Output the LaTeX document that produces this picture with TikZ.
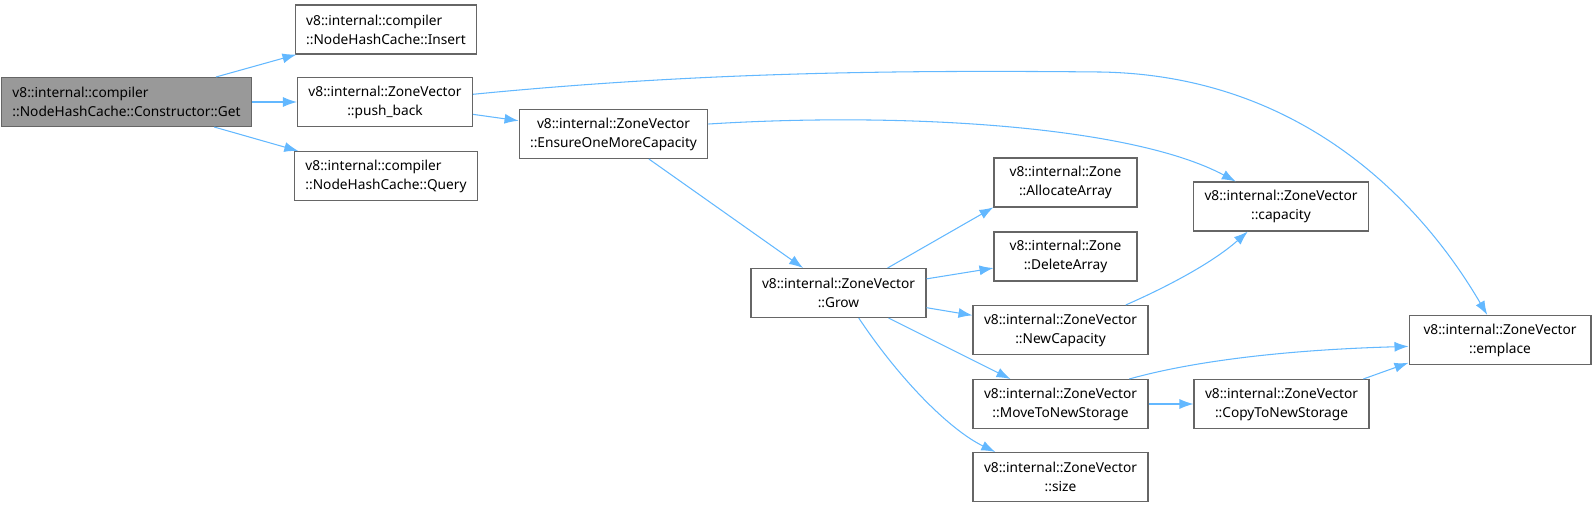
\documentclass[tikz,border=0pt]{standalone}
\usepackage{fontspec}
\setmainfont{Noto Sans}
\usepackage{tikz}
\usepackage{xcolor}
\usetikzlibrary{arrows.meta}
\definecolor{edgeblue}{RGB}{99,184,255}
\definecolor{boxgray}{RGB}{102,102,102}
\definecolor{rootgray}{RGB}{153,153,153}

\begin{document}
\begin{tikzpicture}[x=0.02cm,y=-0.02cm,
  fn/.style={draw=boxgray,line width=0.6pt,minimum height=0.98cm,inner xsep=0.22cm,inner ysep=0pt,font=\fontsize{7.8}{10.8}\selectfont,align=center},
  fnleft/.style={fn,align=left},
  call/.style={draw=edgeblue,line width=0.6pt,-{Latex[length=0.28cm,width=0.2cm]}}]
\useasboundingbox (0,0) rectangle (1596,507);

% caller and first level
\node[fnleft,fill=rootgray,minimum width=4.86cm] (get) at (126.5,102) {v8::internal::compiler\\::NodeHashCache::Constructor::Get};
\node[fnleft,minimum width=3.6cm] (insert) at (386,29.5) {v8::internal::compiler\\::NodeHashCache::Insert};
\node[fn,minimum width=3.44cm] (pushback) at (385,102) {v8::internal::ZoneVector\\::push\_back};
\node[fnleft,minimum width=3.6cm] (query) at (386,176) {v8::internal::compiler\\::NodeHashCache::Query};

% zone vector internals
\node[fn,minimum width=3.62cm] (ensure) at (613.5,134) {v8::internal::ZoneVector\\::EnsureOneMoreCapacity};
\node[fn,minimum width=3.46cm] (grow) at (838.5,293) {v8::internal::ZoneVector\\::Grow};
\node[fn,minimum width=2.86cm] (alloc) at (1065.5,182.5) {v8::internal::Zone\\::AllocateArray};
\node[fn,minimum width=2.86cm] (delarr) at (1065.5,256.5) {v8::internal::Zone\\::DeleteArray};
\node[fn,minimum width=3.46cm] (newcap) at (1060.5,330) {v8::internal::ZoneVector\\::NewCapacity};
\node[fn,minimum width=3.46cm] (move) at (1060.5,404) {v8::internal::ZoneVector\\::MoveToNewStorage};
\node[fn,minimum width=3.46cm] (size) at (1060.5,477) {v8::internal::ZoneVector\\::size};
\node[fn,minimum width=3.48cm] (capacity) at (1281,206.5) {v8::internal::ZoneVector\\::capacity};
\node[fn,minimum width=3.46cm] (copy) at (1281.5,404) {v8::internal::ZoneVector\\::CopyToNewStorage};
\node[fn,minimum width=3.64cm] (emplace) at (1500,340) {v8::internal::ZoneVector\\::emplace};

% calls
\draw[call] (get) -- (insert);
\draw[call] (get) -- (pushback);
\draw[call] (get) -- (query);
\draw[call] (pushback.5) .. controls (700,72) and (900,70) .. (1100,72) .. controls (1300,75) and (1420,200) .. (emplace.117);
\draw[call] (pushback) -- (ensure);
\draw[call] (ensure.6) .. controls (900,112) and (1130,125) .. (capacity.151);
\draw[call] (ensure) -- (grow);
\draw[call] (grow.27) -- (alloc.199);
\draw[call] (grow) -- (delarr);
\draw[call] (grow) -- (newcap);
\draw[call] (grow) -- (move);
\draw[call] (grow.-51) .. controls (900,380) and (950,430) .. (size.159);
\draw[call] (newcap.21) .. controls (1160,290) and (1210,265) .. (capacity.-143);
\draw[call] (move.20) .. controls (1190,362) and (1280,350) .. (emplace.184);
\draw[call] (move) -- (copy);
\draw[call] (copy.17) -- (emplace.-166);
\end{tikzpicture}
\end{document}
